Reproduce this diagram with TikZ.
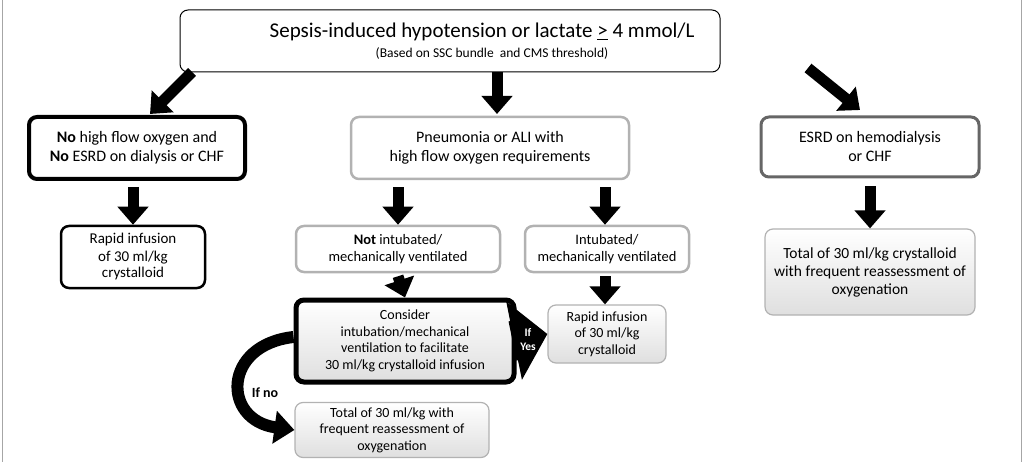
\documentclass[tikz,border=0pt]{standalone}
\usepackage{fontspec}
\setmainfont{Carlito}
\usetikzlibrary{arrows.meta}
\begin{document}
\begin{tikzpicture}[x=1pt,y=-1pt,
 box/.style={draw,rounded corners=8pt,align=center,inner sep=0pt},
 gbox/.style={box,draw=gray!60,line width=2.5pt},
 shade/.style={top color=white,bottom color=gray!25},
 blk/.style={draw=black,line width=1.2pt},
 big/.style={line width=11pt,-{Triangle[width=30pt,length=18pt]}},
 f1/.style={font=\fontsize{16}{19}\selectfont},
 f2/.style={font=\fontsize{14.5}{17}\selectfont},
]
\useasboundingbox (0,0) rectangle (1024,462);
\draw[gray!70,line width=0.8pt] (2,-2) -- (2,462) (1021,-2) -- (1021,462);
% top
\node[box,blk,line width=1pt,minimum width=540,minimum height=62] (top) at (450,41) {};
\node[font=\fontsize{21}{24}\selectfont] at (482,32) {Sepsis-induced hypotension or lactate \underline{>} 4 mmol/L};
\node[font=\fontsize{13.5}{15}\selectfont] at (492,54) {(Based on SSC bundle\ \ and CMS threshold)};
% level 1
\node[box,f1,line width=4pt,minimum width=216,minimum height=62] (L) at (137,148) {\textbf{No} high flow oxygen and\\\textbf{No} ESRD on dialysis or CHF};
\node[gbox,f1,minimum width=278,minimum height=62] (M) at (490,148) {Pneumonia or ALI with\\high flow oxygen requirements};
\node[box,f1,draw=gray!80!black,line width=3pt,minimum width=218,minimum height=60] (R) at (870,147) {ESRD on hemodialysis\\or CHF};
\coordinate (t1) at (192,72); \coordinate (t3) at (808,68);
\draw[big] (t1) -- (150,114);
\draw[big] (top.south -| 497,0) -- (497,114);
\draw[big] (t3) -- (860,110);
% level 2
\node[box,f2,line width=2.5pt,minimum width=144,minimum height=62,font=\fontsize{15}{17}\selectfont] (L2) at (133,257) {Rapid infusion\\of 30 ml/kg\\crystalloid};
\node[gbox,f2,minimum width=204,minimum height=46] (N) at (398,249) {\textbf{Not} intubated/\\mechanically ventilated};
\node[gbox,f2,minimum width=164,minimum height=46] (I) at (607,249) {Intubated/\\mechanically ventilated};
\node[box,shade,draw=gray!60,line width=1.2pt,minimum width=210,minimum height=86,font=\fontsize{15.5}{18}\selectfont] (R2) at (870,272) {Total of 30 ml/kg crystalloid\\with frequent reassessment of\\oxygenation};
\draw[big] (L.south -| 133,0) ++(0,6) -- (L2.north);
\draw[big] (M.south -| 398,0) ++(0,7) -- (N.north);
\draw[big] (M.south -| 605,0) ++(0,7) -- (I.north -| 605,0);
\draw[big] (R.south) ++(0,8) -- (R2.north);
% level 3
\node[box,shade,line width=5pt,minimum width=218,minimum height=82,font=\fontsize{14}{16.5}\selectfont] (C) at (405,341) {Consider\\intubation/mechanical\\ventilation to facilitate\\30 ml/kg crystalloid infusion};
\node[box,shade,draw=gray!60,line width=1.2pt,minimum width=118,minimum height=58,font=\fontsize{14}{16.5}\selectfont] (Y) at (607,334) {Rapid infusion\\of 30 ml/kg\\crystalloid};
\node[box,shade,draw=gray!60,line width=1.2pt,minimum width=194,minimum height=55,font=\fontsize{14}{16.5}\selectfont] (T) at (392,430) {Total of 30 ml/kg with\\frequent reassessment of\\oxygenation};
\draw[big] (N.south) ++(0,3) -- (C.north);
\draw[big] (I.south -| 605,0) ++(0,3) -- (Y.north -| 605,0);
\draw[line width=40pt,-{Triangle[width=78pt,length=34pt]}] (C.east) ++(-4,0) -- (Y.west);
\node[white,font=\bfseries\fontsize{11.5}{14}\selectfont,align=center] (ify) at (528,340) {If\\Yes};
\draw[line width=12pt,-{Triangle[width=32pt,length=20pt]}] (C.west) ++(0,-4) .. controls (222,345) and (222,420) .. (T.west);
\node[font=\bfseries\fontsize{14}{16}\selectfont] (ifn) at (265,393) {If no};
\end{tikzpicture}
\end{document}
